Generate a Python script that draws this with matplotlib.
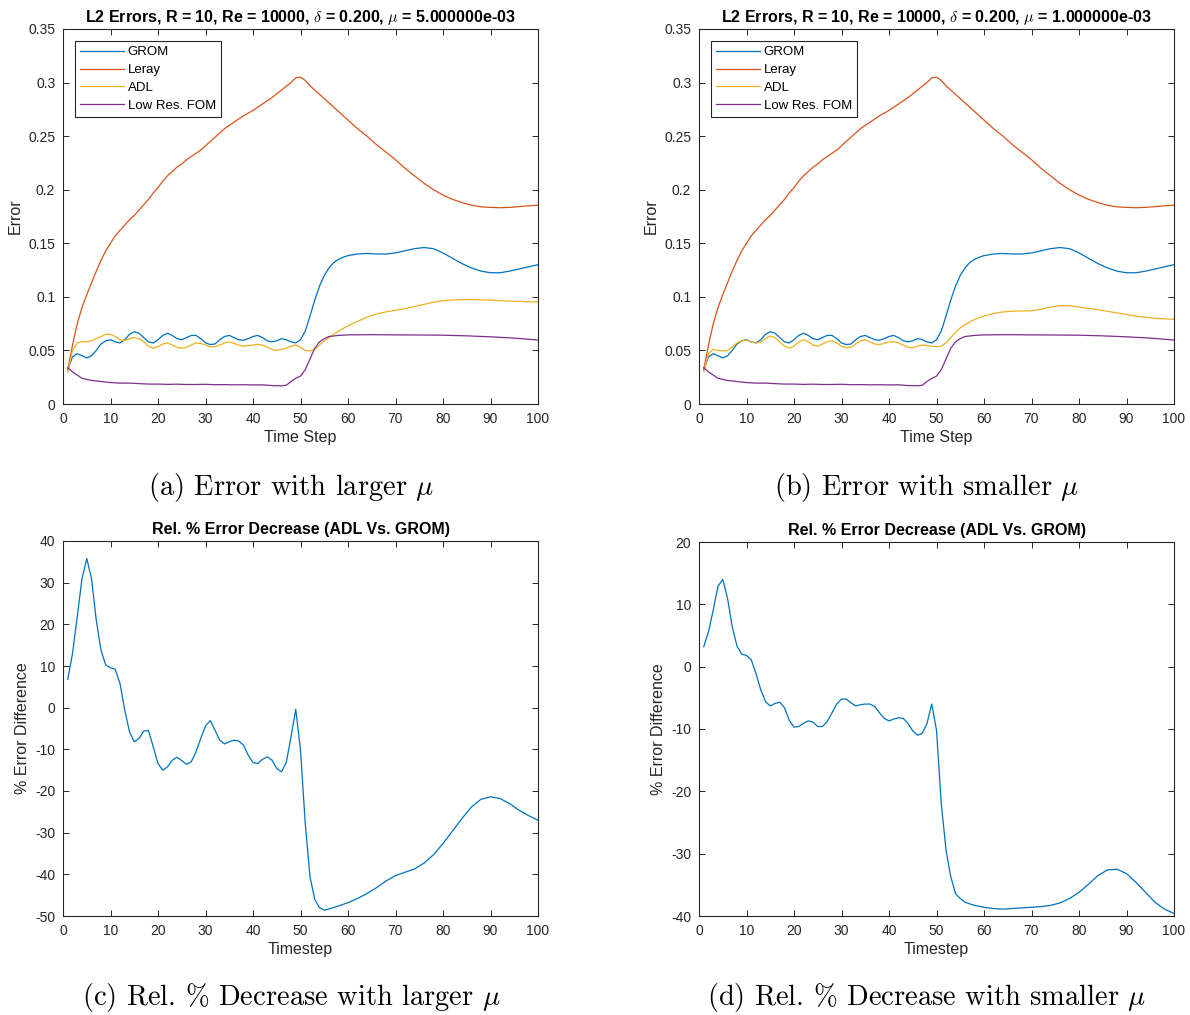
import matplotlib
matplotlib.use("Agg")
import matplotlib.pyplot as plt

plt.rcParams['font.family'] = ['Liberation Sans', 'DejaVu Sans']
plt.rcParams['mathtext.fontset'] = 'cm'

# ---- data ----
t_grom = list(range(1, 61)) + [62, 64, 66, 68, 70, 72, 74, 76, 78, 80, 82, 84, 86, 88, 90, 92, 94, 96, 98, 100]
grom = [0.032, 0.044, 0.047, 0.045, 0.043, 0.045, 0.050, 0.056, 0.059, 0.060,
        0.058, 0.057, 0.060, 0.065, 0.0675, 0.066, 0.062, 0.058, 0.057, 0.060,
        0.064, 0.066, 0.064, 0.061, 0.060, 0.062, 0.064, 0.064, 0.061, 0.057,
        0.0555, 0.056, 0.060, 0.063, 0.064, 0.062, 0.060, 0.0595, 0.061, 0.063,
        0.064, 0.062, 0.059, 0.058, 0.059, 0.061, 0.060, 0.058, 0.057, 0.060,
        0.068, 0.082, 0.097, 0.110, 0.120, 0.127, 0.132, 0.135, 0.137, 0.1385,
        0.140, 0.1405, 0.140, 0.140, 0.141, 0.143, 0.145, 0.146, 0.145, 0.141,
        0.136, 0.131, 0.127, 0.124, 0.1225, 0.1225, 0.124, 0.126, 0.128, 0.130]

t_leray = list(range(1, 31)) + [32, 34, 36, 38, 40, 42, 44, 46, 48, 49, 50, 51, 52, 54, 56, 58, 60, 62, 64, 66,
                                68, 70, 72, 74, 76, 78, 80, 82, 84, 86, 88, 90, 92, 94, 96, 98, 100]
leray = [0.032, 0.055, 0.075, 0.090, 0.102, 0.113, 0.124, 0.134, 0.143, 0.150,
         0.157, 0.162, 0.167, 0.172, 0.176, 0.181, 0.186, 0.191, 0.197, 0.202,
         0.208, 0.213, 0.217, 0.221, 0.224, 0.228, 0.231, 0.234, 0.237, 0.241,
         0.249, 0.257, 0.263, 0.269, 0.274, 0.280, 0.286, 0.293, 0.300, 0.3045,
         0.305, 0.302, 0.297, 0.289, 0.281, 0.273, 0.265, 0.257, 0.250, 0.242,
         0.235, 0.228, 0.220, 0.213, 0.206, 0.200, 0.195, 0.191, 0.188, 0.1855,
         0.184, 0.1835, 0.1832, 0.1835, 0.1842, 0.185, 0.1855]

t_adl = list(range(1, 57)) + [58, 60, 62, 64, 66, 68, 70, 72, 74, 76, 78, 80, 82, 84, 86, 88, 90, 92, 94, 96, 98, 100]
adl_large = [0.030, 0.050, 0.057, 0.058, 0.058, 0.059, 0.061, 0.063, 0.065, 0.065,
             0.063, 0.060, 0.059, 0.061, 0.062, 0.061, 0.058, 0.054, 0.052, 0.0535,
             0.056, 0.057, 0.055, 0.053, 0.052, 0.053, 0.055, 0.057, 0.0565, 0.055,
             0.0535, 0.0535, 0.055, 0.057, 0.058, 0.0565, 0.055, 0.054, 0.0545, 0.055,
             0.0557, 0.055, 0.053, 0.051, 0.050, 0.051, 0.052, 0.054, 0.055, 0.053,
             0.050, 0.0495, 0.051, 0.055, 0.059, 0.062,
             0.068, 0.073, 0.077, 0.081, 0.084, 0.086, 0.0875, 0.089, 0.091, 0.093,
             0.095, 0.0965, 0.097, 0.0975, 0.0975, 0.0972, 0.097, 0.0965, 0.096, 0.0958,
             0.0955, 0.0953]
adl_small = [0.030, 0.047, 0.051, 0.050, 0.0495, 0.050, 0.053, 0.057, 0.059, 0.0595,
             0.058, 0.057, 0.058, 0.061, 0.0635, 0.062, 0.058, 0.054, 0.052, 0.054,
             0.058, 0.060, 0.058, 0.055, 0.054, 0.056, 0.058, 0.059, 0.057, 0.054,
             0.0525, 0.053, 0.056, 0.059, 0.060, 0.058, 0.056, 0.0555, 0.0565, 0.058,
             0.058, 0.057, 0.055, 0.053, 0.0525, 0.054, 0.055, 0.0545, 0.054, 0.0535,
             0.054, 0.057, 0.062, 0.067, 0.071, 0.074,
             0.079, 0.082, 0.0845, 0.086, 0.0866, 0.0868, 0.087, 0.0885, 0.0905, 0.0918,
             0.0918, 0.0905, 0.0893, 0.088, 0.0865, 0.085, 0.0835, 0.082, 0.081, 0.080,
             0.0795, 0.079]

t_fom = [1, 2, 3, 4, 5, 6, 7, 8, 9, 10, 12, 14, 16, 18, 20, 22, 24, 26, 28, 30, 32, 34, 36, 38, 40,
         42, 44, 46, 47, 48, 49, 50, 51, 52, 53, 54, 55, 56, 58, 60, 65, 70, 75, 80, 85, 90, 95, 100]
fom = [0.034, 0.030, 0.027, 0.024, 0.023, 0.022, 0.0215, 0.021, 0.0205, 0.020,
       0.0195, 0.0195, 0.0190, 0.0186, 0.0186, 0.0183, 0.0185, 0.0182, 0.0182, 0.0184,
       0.0180, 0.0181, 0.0179, 0.0180, 0.0178, 0.0179, 0.0172, 0.0170, 0.0175, 0.021,
       0.024, 0.026, 0.032, 0.042, 0.052, 0.058, 0.061, 0.0630, 0.0640, 0.0645,
       0.0647, 0.0645, 0.0644, 0.0642, 0.0636, 0.0627, 0.0615, 0.0597]

t_rel = list(range(1, 57)) + [58, 60, 62, 64, 66, 68, 70, 72, 74, 76, 78, 80, 82, 84, 86, 88, 90, 92, 94, 96, 98, 100]
rel_large = [6.8, 13.0, 21.8, 31.0, 35.8, 31.0, 21.0, 13.8, 10.2, 9.6,
             9.2, 5.8, -0.6, -5.8, -8.2, -7.4, -5.6, -5.5, -9.4, -13.4,
             -15.0, -14.2, -12.6, -11.9, -12.7, -13.6, -13.0, -10.6, -7.4, -4.4,
             -3.1, -5.4, -7.8, -8.7, -8.2, -7.8, -8.0, -9.0, -11.4, -13.2,
             -13.4, -12.4, -11.8, -12.6, -14.6, -15.4, -13.2, -7.0, -0.4, -10.2,
             -27.8, -40.6, -46.0, -48.0, -48.6, -48.3,
             -47.6, -46.8, -45.8, -44.6, -43.2, -41.6, -40.3, -39.5, -38.7, -37.3,
             -35.3, -32.6, -29.6, -26.6, -23.8, -22.0, -21.4, -21.8, -23.0, -24.6,
             -25.9, -27.0]
rel_small = [3.2, 5.6, 9.1, 12.9, 14.0, 11.0, 6.4, 3.3, 2.0, 1.8,
             1.1, -1.1, -3.7, -5.6, -6.3, -5.9, -5.7, -6.6, -8.6, -9.7,
             -9.6, -9.1, -8.7, -8.9, -9.6, -9.6, -8.8, -7.4, -6.0, -5.2,
             -5.2, -5.8, -6.3, -6.1, -6.0, -6.0, -6.4, -7.4, -8.3, -8.7,
             -8.4, -8.2, -8.3, -9.1, -10.3, -11.0, -10.7, -9.1, -6.0, -10.2,
             -21.9, -29.4, -33.7, -36.4, -37.2, -37.8,
             -38.3, -38.6, -38.8, -38.9, -38.8, -38.7, -38.6, -38.5, -38.3, -37.9,
             -37.2, -36.2, -34.9, -33.5, -32.6, -32.5, -33.2, -34.6, -36.2, -37.8,
             -38.9, -39.6]

series_names = ['GROM', 'Leray', 'ADL', 'Low Res. FOM']
colors = ['#0072BD', '#D95319', '#EDB120', '#7E2F8E']
captions = [r'(a) Error with larger $\mu$', r'(b) Error with smaller $\mu$',
            r'(c) Rel. % Decrease with larger $\mu$', r'(d) Rel. % Decrease with smaller $\mu$']

W, H = 1190, 1015
fig = plt.figure(figsize=(W / 100, H / 100), dpi=100)


def px_axes(left, top, right, bottom):
    return fig.add_axes([left / W, 1 - bottom / H, (right - left) / W, (bottom - top) / H])


def style(ax):
    ax.tick_params(direction='in', top=True, right=True, length=4.5, width=0.7,
                   labelsize=10, colors='#262626', labelcolor='#262626', pad=5.5)
    for s in ax.spines.values():
        s.set_linewidth(0.8)
        s.set_color('#262626')
    ax.set_xlim(0, 100)
    ax.set_xticks(range(0, 101, 10))


ax_a = px_axes(63, 29, 538, 404)
ax_b = px_axes(699, 29, 1174, 404)
ax_c = px_axes(63, 541, 538, 916)
ax_d = px_axes(699, 542, 1174, 916)

for ax, adl, mu in [(ax_a, adl_large, '5.000000e-03'), (ax_b, adl_small, '1.000000e-03')]:
    ax.plot(t_grom, grom, color=colors[0], lw=0.9, label=series_names[0])
    ax.plot(t_leray, leray, color=colors[1], lw=0.9, label=series_names[1])
    ax.plot(t_adl, adl, color=colors[2], lw=0.9, label=series_names[2])
    ax.plot(t_fom, fom, color=colors[3], lw=0.9, label=series_names[3])
    style(ax)
    ax.set_ylim(0, 0.35)
    ax.set_yticks([0, 0.05, 0.1, 0.15, 0.2, 0.25, 0.3, 0.35])
    ax.set_yticklabels(['0', '0.05', '0.1', '0.15', '0.2', '0.25', '0.3', '0.35'])
    ax.set_title(r'L2 Errors, R = 10, Re = 10000, $\delta$ = 0.200, $\mu$ = ' + mu,
                 fontsize=11.5, fontweight='bold', pad=5)
    ax.set_xlabel('Time Step', fontsize=11.5, color='#262626', labelpad=3)
    ax.set_ylabel('Error', fontsize=11.5, color='#262626', labelpad=4)
    leg = ax.legend(loc='upper left', fontsize=9.5, handlelength=3.3, handletextpad=0.3,
                    labelspacing=0.42, borderaxespad=0.9, borderpad=0.4, fancybox=False,
                    framealpha=1, edgecolor='#262626')
    leg.get_frame().set_linewidth(0.8)

for ax, rel, ylim in [(ax_c, rel_large, (-50, 40)), (ax_d, rel_small, (-40, 20))]:
    ax.plot(t_rel, rel, color=colors[0], lw=0.9)
    style(ax)
    ax.set_ylim(*ylim)
    ax.set_yticks(range(ylim[0], ylim[1] + 1, 10))
    ax.set_yticklabels([str(v) for v in range(ylim[0], ylim[1] + 1, 10)])
    ax.set_title('Rel. % Error Decrease (ADL Vs. GROM)', fontsize=11.5, fontweight='bold', pad=5)
    ax.set_xlabel('Timestep', fontsize=11.5, color='#262626', labelpad=3)
    ax.set_ylabel('% Error Difference', fontsize=11.5, color='#262626', labelpad=4)

cap_pos = [(291, 487), (927, 487), (291, 998), (927, 998)]
for (cx, cy), cap in zip(cap_pos, captions):
    fig.text(cx / W, 1 - cy / H, cap, family='cmr10', fontsize=20.5, ha='center', va='center')

fig.savefig('out.png', dpi=100)
